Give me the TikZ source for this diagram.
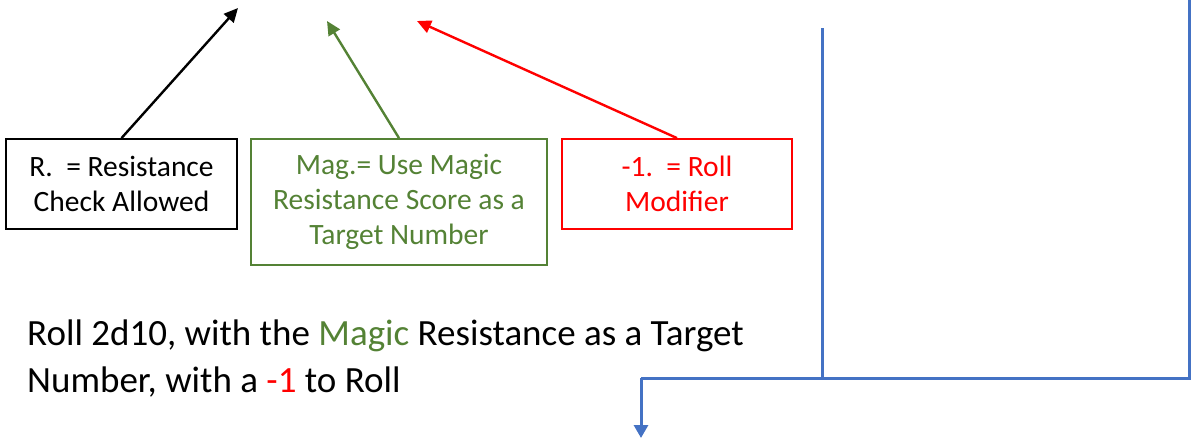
\documentclass[tikz,border=0pt]{standalone}
\usepackage{fontspec}
\setmainfont{Carlito}
\usetikzlibrary{arrows.meta}
\definecolor{mgreen}{HTML}{548235}
\definecolor{mred}{HTML}{FF0000}
\definecolor{mblue}{HTML}{4472C4}
\tikzset{
  note/.style={draw, line width=1.8pt, align=center, inner sep=0pt,
    font=\fontsize{29.5}{35}\selectfont},
  pointer/.style={line width=2.4pt, -{Triangle[length=14pt,width=13pt]}},
  flow/.style={draw=mblue, line width=3pt},
}
\begin{document}
\begin{tikzpicture}[x=1pt,y=-1pt]
\useasboundingbox (0,0) rectangle (1192,439);

% legend boxes
\node[note, black, minimum width=231pt, minimum height=90pt] (res) at (121.5,184)
  {R.\ \ = Resistance\\Check Allowed};
\node[note, mgreen, minimum width=296pt, minimum height=126pt] (mag) at (399,202)
  {Mag.= Use Magic\\Resistance Score as a\\Target Number};
\node[note, mred, minimum width=230pt, minimum height=90pt] (mod) at (677,184)
  {-1.\ \ = Roll\\Modifier};

% pointer targets
\coordinate (tres) at (238,8);
\coordinate (tmag) at (327,21);
\coordinate (tmod) at (417,21);

\draw[pointer, black] (res.north) -- (tres);
\draw[pointer, mgreen] (mag.north) -- (tmag);
\draw[pointer, mred] (mod.north) -- (tmod);

% explanation
\node[anchor=north west, inner sep=0pt, align=left,
      font=\fontsize{37}{47}\selectfont] (txt) at (27,320)
  {Roll 2d10, with the \textcolor{mgreen}{Magic} Resistance as a Target\\
   Number, with a \textcolor{mred}{-1} to Roll};

% flow lines
\coordinate (lt) at (822,28);
\coordinate (rt) at (1189,0);
\coordinate (lj) at (822,378);
\coordinate (rj) at (1189,378);
\coordinate (bend) at (641,378);
\coordinate (out) at (641,438);

\draw[flow] (lt) -- (lj);
\draw[flow] (rt) -- (rj) -- (bend);
\draw[flow, -{Triangle[length=13pt,width=14pt]}] (bend) -- (out);
\end{tikzpicture}
\end{document}
